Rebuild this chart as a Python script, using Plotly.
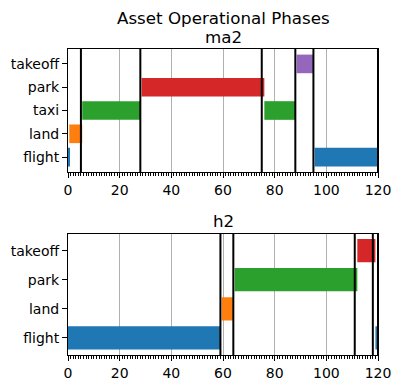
import plotly.graph_objects as go

# ---- data ----
ma2_categories = ["flight", "land", "taxi", "park", "takeoff"]
ma2_phase = ["flight", "land", "taxi", "park", "taxi", "takeoff", "flight"]
ma2_start = [0, 0.5, 5.5, 28.5, 76, 88.5, 95.5]
ma2_end = [0.5, 5.5, 28, 76, 88, 95, 120]
ma2_lines = [5, 28, 75, 88, 95, 120]

h2_categories = ["flight", "land", "park", "takeoff"]
h2_phase = ["flight", "land", "park", "takeoff", "flight"]
h2_start = [0, 59.5, 64.5, 112, 119]
h2_end = [59, 64, 112, 119, 120]
h2_lines = [59, 64, 111, 118, 120]

x_ticks = [0, 20, 40, 60, 80, 100, 120]

palette = ["#1f77b4", "#ff7f0e", "#2ca02c", "#d62728", "#9467bd"]
FONT = "DejaVu Sans"

fig = go.Figure()


def add_panel(cats, phases, starts, ends, xa, ya):
    # colour by order of first appearance
    order = []
    for p in phases:
        if p not in order:
            order.append(p)
    for i, p in enumerate(order):
        idx = [k for k, q in enumerate(phases) if q == p]
        fig.add_trace(go.Bar(
            orientation="h",
            y=[cats.index(p)] * len(idx),
            x=[ends[k] - starts[k] for k in idx],
            base=[starts[k] for k in idx],
            width=0.8,
            marker=dict(color=palette[i], line=dict(width=0)),
            xaxis=xa, yaxis=ya, showlegend=False, name=p,
            hoverinfo="skip",
        ))


add_panel(ma2_categories, ma2_phase, ma2_start, ma2_end, "x", "y")
add_panel(h2_categories, h2_phase, h2_start, h2_end, "x2", "y2")

shapes = []
for v in ma2_lines:
    shapes.append(dict(type="line", xref="x", yref="y domain", x0=v, x1=v, y0=0, y1=1,
                       line=dict(color="black", width=2), layer="above"))
for v in h2_lines:
    shapes.append(dict(type="line", xref="x2", yref="y2 domain", x0=v, x1=v, y0=0, y1=1,
                       line=dict(color="black", width=2), layer="above"))

xcommon = dict(
    range=[0, 120], tickvals=x_ticks, ticktext=[str(t) for t in x_ticks],
    ticks="outside", ticklen=5, tickwidth=1, tickcolor="black",
    showgrid=True, gridcolor="#b0b0b0", gridwidth=0.8,
    showline=True, linecolor="black", linewidth=1, mirror=True,
    zeroline=False, automargin=False, tickfont=dict(size=14, color="black", family=FONT),
    minor=dict(dtick=1, ticks="outside", ticklen=2.5, tickcolor="black", tickwidth=0.8, showgrid=False),
)
ycommon = dict(
    ticks="outside", ticklen=5, tickwidth=1, tickcolor="black",
    showgrid=False, showline=True, linecolor="black", linewidth=1, mirror=True,
    zeroline=False, automargin=False, tickfont=dict(size=14, color="black", family=FONT),
)

fig.update_layout(
    width=401, height=391,
    margin=dict(l=68, r=23, t=49, b=36),
    paper_bgcolor="white", plot_bgcolor="white",
    font=dict(family=FONT, color="black"),
    barmode="overlay",
    xaxis=dict(domain=[0, 1], anchor="y", **xcommon),
    yaxis=dict(domain=[0.598, 1], anchor="x",
               range=[-0.64, len(ma2_categories) - 1 + 0.64],
               tickvals=list(range(len(ma2_categories))), ticktext=ma2_categories, **ycommon),
    xaxis2=dict(domain=[0, 1], anchor="y2", **xcommon),
    yaxis2=dict(domain=[0, 0.397], anchor="x2",
                range=[-0.59, len(h2_categories) - 1 + 0.59],
                tickvals=list(range(len(h2_categories))), ticktext=h2_categories, **ycommon),
    shapes=shapes,
    annotations=[
        dict(text="Asset Operational Phases", x=0.5, y=1.101, xref="paper", yref="paper",
             showarrow=False, xanchor="center", yanchor="middle", font=dict(size=16.7, family=FONT)),
        dict(text="ma2", x=0.5, y=1.039, xref="paper", yref="paper",
             showarrow=False, xanchor="center", yanchor="middle", font=dict(size=16.7, family=FONT)),
        dict(text="h2", x=0.5, y=0.438, xref="paper", yref="paper",
             showarrow=False, xanchor="center", yanchor="middle", font=dict(size=16.7, family=FONT)),
    ],
)

fig.write_html("out.html", config={"displayModeBar": False},
               post_script="document.body.style.margin='0';document.body.style.overflow='hidden';")
